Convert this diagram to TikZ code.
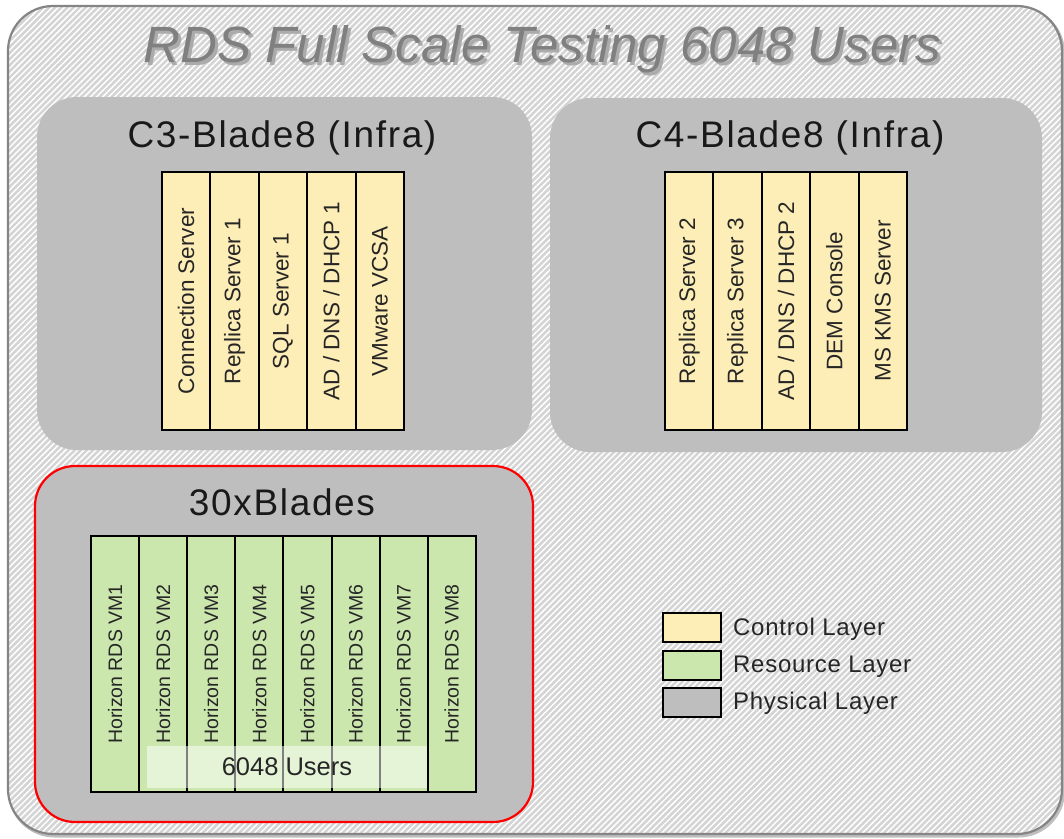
\documentclass[tikz,border=0pt]{standalone}
\usepackage{fontspec}
\setmainfont{Liberation Sans}
\newfontfamily\gfont[LetterSpace=4.5]{Liberation Sans}
\newfontfamily\lfont[LetterSpace=3]{Liberation Sans}
\usetikzlibrary{patterns.meta}
\definecolor{ctrl}{HTML}{FDEDB6}
\definecolor{res}{HTML}{CBE7AD}
\definecolor{phys}{HTML}{BEBEBE}
\definecolor{hatchbg}{HTML}{D4D4D4}
\definecolor{ttl}{HTML}{808080}
\definecolor{ttlshadow}{HTML}{ABABAB}
\definecolor{outline}{HTML}{858585}
\newcommand{\ttltext}{RDS Full Scale Testing 6048 Users}
\begin{document}
\begin{tikzpicture}[x=1pt,y=-1pt,
  vmbox/.style={draw=black, line width=2pt, rotate=90, minimum width=258pt,
    minimum height=48.4pt, inner sep=0pt, text=black!85,
    font=\fontsize{22.5}{26}\selectfont},
  ctrlbox/.style={vmbox, fill=ctrl},
  resbox/.style={vmbox, fill=res, minimum width=256pt, minimum height=48.1pt,
    font=\fontsize{19.5}{23}\selectfont},
  group/.style={fill=phys, rounded corners=40pt},
  gtitle/.style={font=\gfont\fontsize{37}{42}\selectfont, text=black!90, anchor=base, inner sep=0pt},
  legbox/.style={draw=black, line width=2pt, minimum width=58pt, minimum height=29pt, inner sep=0pt},
  legtext/.style={font=\lfont\fontsize{24}{28}\selectfont, anchor=base west, text=black!85, inner sep=0pt},
  ttlfont/.style={font=\fontsize{51}{58}\itshape, anchor=base, inner sep=0pt}
]
\useasboundingbox (0,0) rectangle (1064,838);
\fill[white] (0,0) rectangle (1064,838);
% outer frame
\draw[black!25, line width=3pt, rounded corners=45pt] (9.5,8) rectangle (1063.5,836);
\fill[hatchbg, rounded corners=45pt] (8,6) rectangle (1062,834);
\fill[pattern={Lines[angle=45,distance=4.3pt,line width=1.5pt]}, pattern color=white, rounded corners=45pt] (8,6) rectangle (1062,834);
\draw[outline, line width=2.2pt, rounded corners=45pt] (8,6) rectangle (1062,834);

% title with shadow (one text node)
\node[ttlfont] (title) at (542.5,62)
  {\rlap{\hspace{3pt}\raisebox{-3.5pt}{\textcolor{ttlshadow}{\ttltext}}}\textcolor{ttl}{\ttltext}};

% groups
\fill[group] (37,97) rectangle (532,450);
\fill[group] (550,98) rectangle (1042,452);
\filldraw[group, draw=red, line width=2.2pt] (35,466) rectangle (533,822);

\node[gtitle] (c3t) at (282,147) {C3-Blade8 (Infra)};
\node[gtitle] (c4t) at (790,147) {C4-Blade8 (Infra)};
\node[gtitle] (bt) at (282,515) {30xBlades};

% C3 columns
\node[ctrlbox] (c3a) at (186.2,301) {Connection Server};
\node[ctrlbox] (c3b) at (234.6,301) {Replica Server 1};
\node[ctrlbox] (c3c) at (283.0,301) {SQL Server 1};
\node[ctrlbox] (c3d) at (331.4,301) {AD / DNS / DHCP 1};
\node[ctrlbox] (c3e) at (379.8,301) {VMware VCSA};

% C4 columns
\node[ctrlbox] (c4a) at (689.2,301) {Replica Server 2};
\node[ctrlbox] (c4b) at (737.6,301) {Replica Server 3};
\node[ctrlbox] (c4c) at (786.0,301) {AD / DNS / DHCP 2};
\node[ctrlbox] (c4d) at (834.4,301) {DEM Console};
\node[ctrlbox] (c4e) at (882.8,301) {MS KMS Server};

% RDS VMs
\foreach \i in {1,...,8}{
  \node[resbox] (vm\i) at ({91+48.1*(\i-0.5)},664) {Horizon RDS VM\i};
}
\node[fill=white, fill opacity=0.5, text opacity=1, minimum width=280pt, minimum height=42pt,
  inner sep=0pt, text=black!85, font=\fontsize{25.5}{29}\selectfont] (users) at (287,767) {6048 Users};

% legend
\node[legbox, fill=ctrl] (lc) at (692,627.5) {};
\node[legbox, fill=res] (lr) at (692,665) {};
\node[legbox, fill=phys] (lp) at (692,702.5) {};
\node[legtext] (lct) at (733,635) {Control Layer};
\node[legtext] (lrt) at (733,672) {Resource Layer};
\node[legtext] (lpt) at (733,709) {Physical Layer};
\end{tikzpicture}
\end{document}
